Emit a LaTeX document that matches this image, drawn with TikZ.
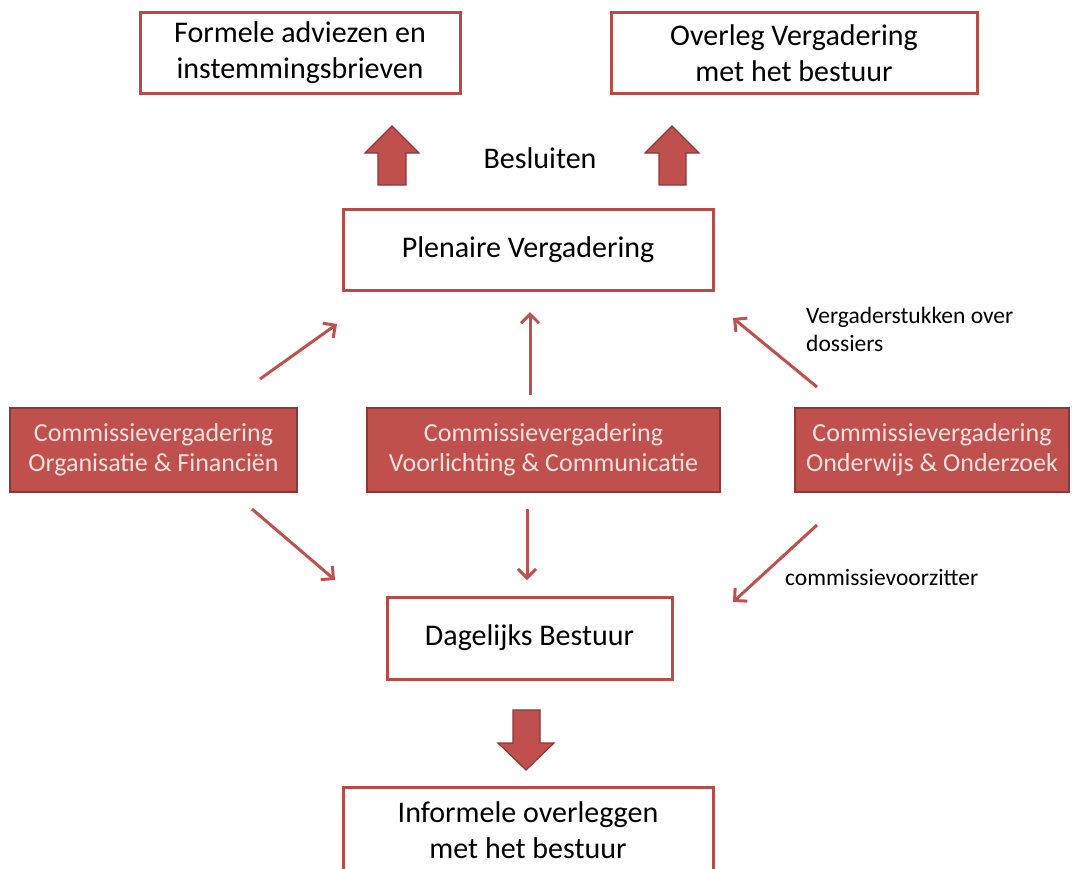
\documentclass[tikz,border=0pt]{standalone}
\usepackage{fontspec}
\setmainfont{Carlito}
\usetikzlibrary{arrows.meta}
\definecolor{boxred}{RGB}{192,80,77}
\definecolor{edgered}{RGB}{184,74,72}
\definecolor{darkred}{RGB}{140,56,54}
\definecolor{pinktext}{RGB}{250,226,222}
\begin{document}
\begin{tikzpicture}[x=1pt,y=-1pt,
  whitebox/.style={draw=edgered,line width=3pt,fill=white,align=center,inner sep=0pt,
    font=\fontsize{30}{36}\selectfont,text=black},
  redbox/.style={draw=darkred,line width=1.5pt,fill=boxred,align=center,inner sep=0pt,
    font=\fontsize{26}{30}\selectfont,text=pinktext,minimum height=84pt},
  thinarrow/.style={draw=boxred,line width=3pt,-{Straight Barb[length=9pt,width=18pt,line width=3pt]}},
  blockarrow/.style={fill=boxred,draw=darkred,line width=1.2pt,line join=miter},
  lbl/.style={font=\fontsize{23.5}{28}\selectfont,align=left,inner sep=0pt,text=black}]
\useasboundingbox (0,0) rectangle (1074,868);
% white boxes
\node[whitebox,minimum width=320pt,minimum height=81pt] (formele) at (300,52.5) {Formele adviezen en\\instemmingsbrieven};
\node[whitebox,minimum width=366pt,minimum height=81pt] (overleg) at (794,53) {Overleg Vergadering\\met het bestuur};
\node[whitebox,minimum width=370pt,minimum height=81pt] (plenaire) at (528,249.5) {Plenaire Vergadering};
\node[whitebox,minimum width=285pt,minimum height=82pt] (dagelijks) at (529.5,638) {Dagelijks Bestuur};
\node[whitebox,minimum width=370pt,minimum height=86pt] (informele) at (528,830) {Informele overleggen\\met het bestuur};
% red boxes
\node[redbox,minimum width=287pt] (org) at (153.5,450) {Commissievergadering\\Organisatie \& Financiën};
\node[redbox,minimum width=353pt] (voorl) at (543.5,450) {Commissievergadering\\Voorlichting \& Communicatie};
\node[redbox,minimum width=274pt] (ond) at (932,450) {Commissievergadering\\Onderwijs \& Onderzoek};
% block arrows
\path[blockarrow] (378,185) -- (378,153) -- (365,153) -- (392,126) -- (419,153) -- (406,153) -- (406,185) -- cycle;
\path[blockarrow] (659,185) -- (659,153) -- (645,153) -- (672,126) -- (699,153) -- (686,153) -- (686,185) -- cycle;
\path[blockarrow] (513,710) -- (513,743) -- (498,743) -- (526,770) -- (554,743) -- (540,743) -- (540,710) -- cycle;
% labels
\node[font=\fontsize{30}{36}\selectfont,inner sep=0pt] (besluiten) at (540,158) {Besluiten};
\node[lbl,anchor=west] (stukken) at (806,329) {Vergaderstukken over\\dossiers};
\node[lbl,anchor=west] (voorzitter) at (785,577) {commissievoorzitter};
% connector coordinates
\coordinate (o1) at (260,379); \coordinate (p1) at (337,324);
\coordinate (v1) at (530,395); \coordinate (p2) at (530,312);
\coordinate (n1) at (817,387); \coordinate (p3) at (733,318);
\coordinate (o2) at (252,509); \coordinate (d1) at (335,580);
\coordinate (v2) at (527,509); \coordinate (d2) at (527,580);
\coordinate (n2) at (817,525); \coordinate (d3) at (733,602);
\draw[thinarrow] (o1) -- (p1);
\draw[thinarrow] (v1) -- (p2);
\draw[thinarrow] (n1) -- (p3);
\draw[thinarrow] (o2) -- (d1);
\draw[thinarrow] (v2) -- (d2);
\draw[thinarrow] (n2) -- (d3);
\end{tikzpicture}
\end{document}
